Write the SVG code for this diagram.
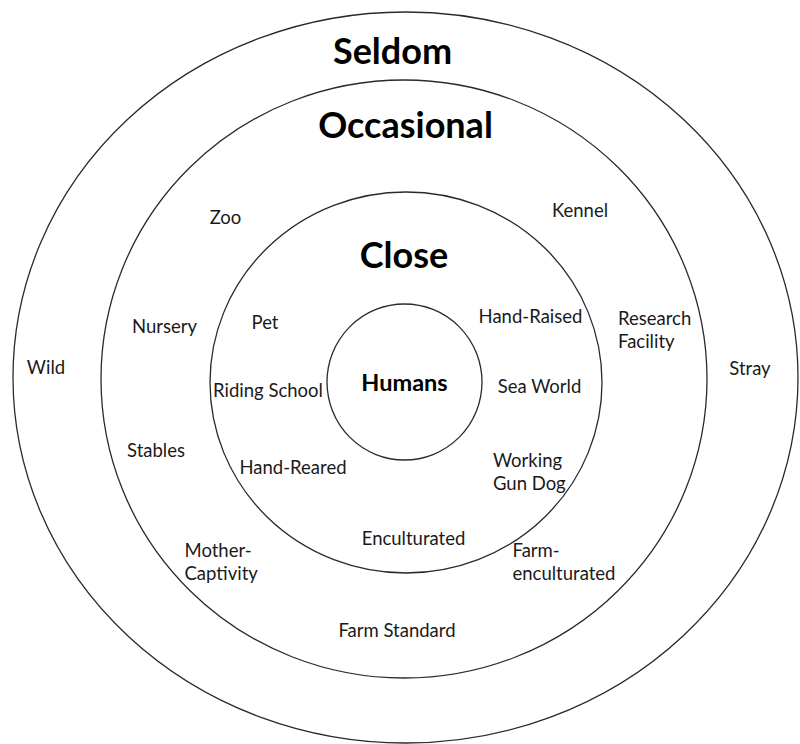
<svg xmlns="http://www.w3.org/2000/svg" width="800" height="744" viewBox="0 0 800 744">
<style>
.ring{fill:none;stroke:#2a2a2a;stroke-width:1.3}
.lbl{font-family:Lato,"Liberation Sans",sans-serif;font-size:18.5px;fill:#1a1a1a}
.hd{font-family:Lato,"Liberation Sans",sans-serif;font-weight:bold;font-size:36px;fill:#000}
.mid{text-anchor:middle}
</style>
<rect width="800" height="744" fill="#fff"/>
<g id="connectors"></g>
<g id="seldom">
<ellipse class="ring" cx="405.5" cy="377.5" rx="392.5" ry="365.5"/>
<text class="hd mid" x="392.5" y="64">Seldom</text>
<text class="lbl mid" x="46" y="374">Wild</text>
<text class="lbl mid" x="750" y="375">Stray</text>
</g>
<g id="occasional">
<ellipse class="ring" cx="404" cy="379" rx="303" ry="299"/>
<text class="hd mid" x="405.5" y="138">Occasional</text>
<text class="lbl mid" x="225.5" y="224">Zoo</text>
<text class="lbl mid" x="580" y="217">Kennel</text>
<text class="lbl mid" x="164.5" y="333">Nursery</text>
<text class="lbl" x="618" y="325">Research</text>
<text class="lbl" x="618" y="348">Facility</text>
<text class="lbl mid" x="156" y="456.5">Stables</text>
<text class="lbl" x="184.5" y="556.5">Mother-</text>
<text class="lbl" x="184.5" y="580">Captivity</text>
<text class="lbl" x="512.5" y="556.5">Farm-</text>
<text class="lbl" x="512.5" y="580">enculturated</text>
<text class="lbl mid" x="397" y="637">Farm Standard</text>
</g>
<g id="close">
<ellipse class="ring" cx="406" cy="382.5" rx="196" ry="190.5"/>
<text class="hd mid" x="404" y="268">Close</text>
<text class="lbl mid" x="265" y="329">Pet</text>
<text class="lbl mid" x="530.5" y="322.5">Hand-Raised</text>
<text class="lbl mid" x="268" y="397">Riding School</text>
<text class="lbl mid" x="539.5" y="393">Sea World</text>
<text class="lbl mid" x="293" y="474">Hand-Reared</text>
<text class="lbl" x="493" y="466.5">Working</text>
<text class="lbl" x="493" y="490">Gun Dog</text>
<text class="lbl mid" x="413.5" y="544.5">Enculturated</text>
</g>
<g id="humans">
<ellipse class="ring" cx="404.5" cy="382" rx="77.5" ry="78"/>
<text class="hd mid" x="404.5" y="391" style="font-size:23.5px">Humans</text>
</g>
</svg>
